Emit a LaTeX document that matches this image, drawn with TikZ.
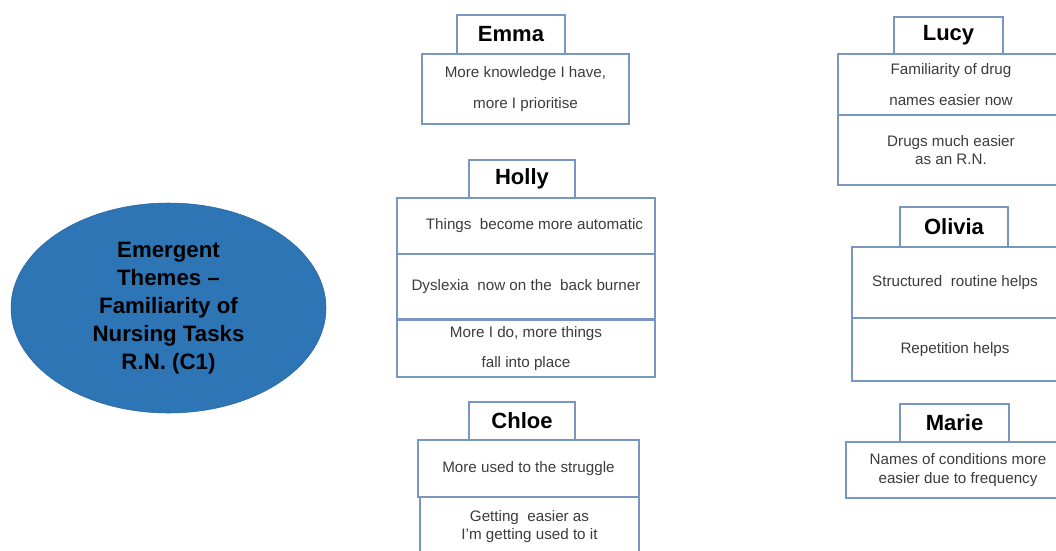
\documentclass[tikz,border=0pt]{standalone}
\usepackage{fontspec}
\setmainfont{Liberation Sans}
\usetikzlibrary{shapes.geometric}

\begin{document}
\begin{tikzpicture}[x=0.75pt,y=0.75pt,yscale=-1,xscale=1,
  box/.style 2 args={draw={rgb, 255:red, 120; green, 150; blue, 190 },line width=0.9pt,
    rectangle,inner sep=0pt,minimum width=#1*0.75pt,minimum height=#2*0.75pt,align=center},
  person/.style={font=\fontsize{16.5}{19}\selectfont\bfseries,text=black},
  remark/.style={font=\fontsize{11.4}{13.8}\selectfont,text={rgb, 255:red, 60; green, 60; blue, 60 }}]
%set diagram to 1056 x 550
\clip (0,0) rectangle (1056,550);

%Shape: Ellipse
\node (theme) [ellipse,draw={rgb, 255:red, 40; green, 100; blue, 160 },fill={rgb, 255:red, 46; green, 117; blue, 182 },
  minimum width=315*0.75pt,minimum height=210*0.75pt,inner sep=0pt,align=center,
  font=\fontsize{16.7}{21}\selectfont\bfseries] at (168.5,308)
  {Emergent\\Themes --\\Familiarity of\\Nursing Tasks\\R.N. (C1)};

%Emma
\node (emma) [box={108}{39},person] at (511,34.5) {Emma};
\node (emma1) [box={207}{70},remark] at (525.5,89) {More knowledge I have,\\[9pt]more I prioritise};

%Holly
\node (holly) [box={106}{38},person] at (522,179) {Holly};
\node (holly1) [box={258}{56},remark] at (526,226) {\ \ \ \ Things\ \ become more automatic};
\node (holly2) [box={258}{65},remark] at (526,286.5) {Dyslexia\ \ now on the\ \ back burner};
\node (holly3) [box={258}{57},remark] at (526,348.5) {More I do, more things\\[9pt]fall into place};

%Chloe
\node (chloe) [box={106}{38},person] at (522,421) {Chloe};
\node (chloe1) [box={221}{57},remark] at (528.5,468.5) {More used to the struggle};
\node (chloe2) [box={219}{59},remark] at (529.5,526.5) {Getting\ \ easier as\\I'm getting used to it};

%Lucy
\node (lucy) [box={109}{37},person] at (948.5,35.5) {Lucy};
\node (lucy1) [box={226}{61},remark] at (951,84.5) {Familiarity of drug\\[9pt]names easier now};
\node (lucy2) [box={226}{70},remark] at (951,150) {Drugs much easier\\as an R.N.};

%Olivia
\node (olivia) [box={108}{40},person] at (954,227) {Olivia};
\node (olivia1) [box={206}{71},remark] at (955,282.5) {Structured\ \ routine helps};
\node (olivia2) [box={206}{63},remark] at (955,349.5) {Repetition helps};

%Marie
\node (marie) [box={109}{38},person] at (954.5,423) {Marie};
\node (marie1) [box={224}{56},remark] at (958,470) {Names of conditions more\\easier due to frequency};

\end{tikzpicture}
\end{document}
